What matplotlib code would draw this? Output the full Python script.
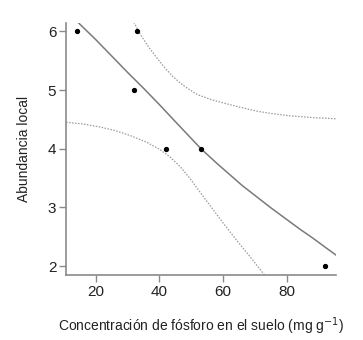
import matplotlib.pyplot as plt

plt.rcParams['font.family'] = ['Liberation Sans', 'DejaVu Sans']

# observed points
fosforo = [14, 33, 32, 42, 53, 92]
abundancia = [6, 6, 5, 4, 4, 2]

# fitted curve
ajuste_x = [14.3, 20, 25, 30, 35, 40, 45, 49, 53, 58, 62, 66, 70.5, 75, 80, 84, 88, 92, 95.3]
ajuste_y = [6.16, 5.86, 5.58, 5.30, 5.03, 4.75, 4.46, 4.23, 4.0, 3.75, 3.56, 3.37, 3.18,
            2.99, 2.79, 2.63, 2.48, 2.32, 2.19]

# confidence band
sup_x = [31.5, 34, 36.5, 39, 41.5, 44, 46.5, 49, 52, 56, 60, 65, 70.5, 75, 80.9, 88, 95.2]
sup_y = [6.2, 5.95, 5.74, 5.56, 5.39, 5.24, 5.12, 5.02, 4.92, 4.84, 4.78, 4.71, 4.64,
         4.60, 4.56, 4.53, 4.51]
inf_x = [10.7, 16, 21.3, 26, 31, 36, 40, 43.3, 46.4, 49.6, 53.8, 57, 60, 64.2, 68.4, 72.9]
inf_y = [4.45, 4.42, 4.37, 4.31, 4.22, 4.11, 3.99, 3.86, 3.70, 3.49, 3.18, 2.95, 2.73,
         2.44, 2.16, 1.85]

fig = plt.figure(figsize=(3.63, 3.40), dpi=100)
ax = fig.add_axes([0.1818, 0.191, 0.7438, 0.741])

ax.plot(ajuste_x, ajuste_y, color='#7a7a7a', lw=1.1)
ax.plot(sup_x, sup_y, color='#9a9a9a', lw=0.9, linestyle=(0, (1.2, 1.2)))
ax.plot(inf_x, inf_y, color='#9a9a9a', lw=0.9, linestyle=(0, (1.2, 1.2)))
ax.plot(fosforo, abundancia, 'o', color='black', ms=2.8)

ax.set_xlim(10.68, 95.37)
ax.set_ylim(1.846, 6.14)
ax.set_xticks([20, 40, 60, 80])
ax.set_yticks([2, 3, 4, 5, 6])

for s in ['top', 'right']:
    ax.spines[s].set_visible(False)
for s in ['left', 'bottom']:
    ax.spines[s].set_color('#8a8a8a')
    ax.spines[s].set_linewidth(1.2)
ax.tick_params(length=5, width=1, color='#8a8a8a', labelsize=11, pad=2,
               labelcolor='#222222')

ax.set_xlabel('Concentración de fósforo en el suelo (mg g$^{-1}$)',
              fontsize=10, color='#222222', labelpad=12)
ax.set_ylabel('Abundancia local', fontsize=10, color='#222222', labelpad=12)

fig.savefig('out.png', dpi=100)
